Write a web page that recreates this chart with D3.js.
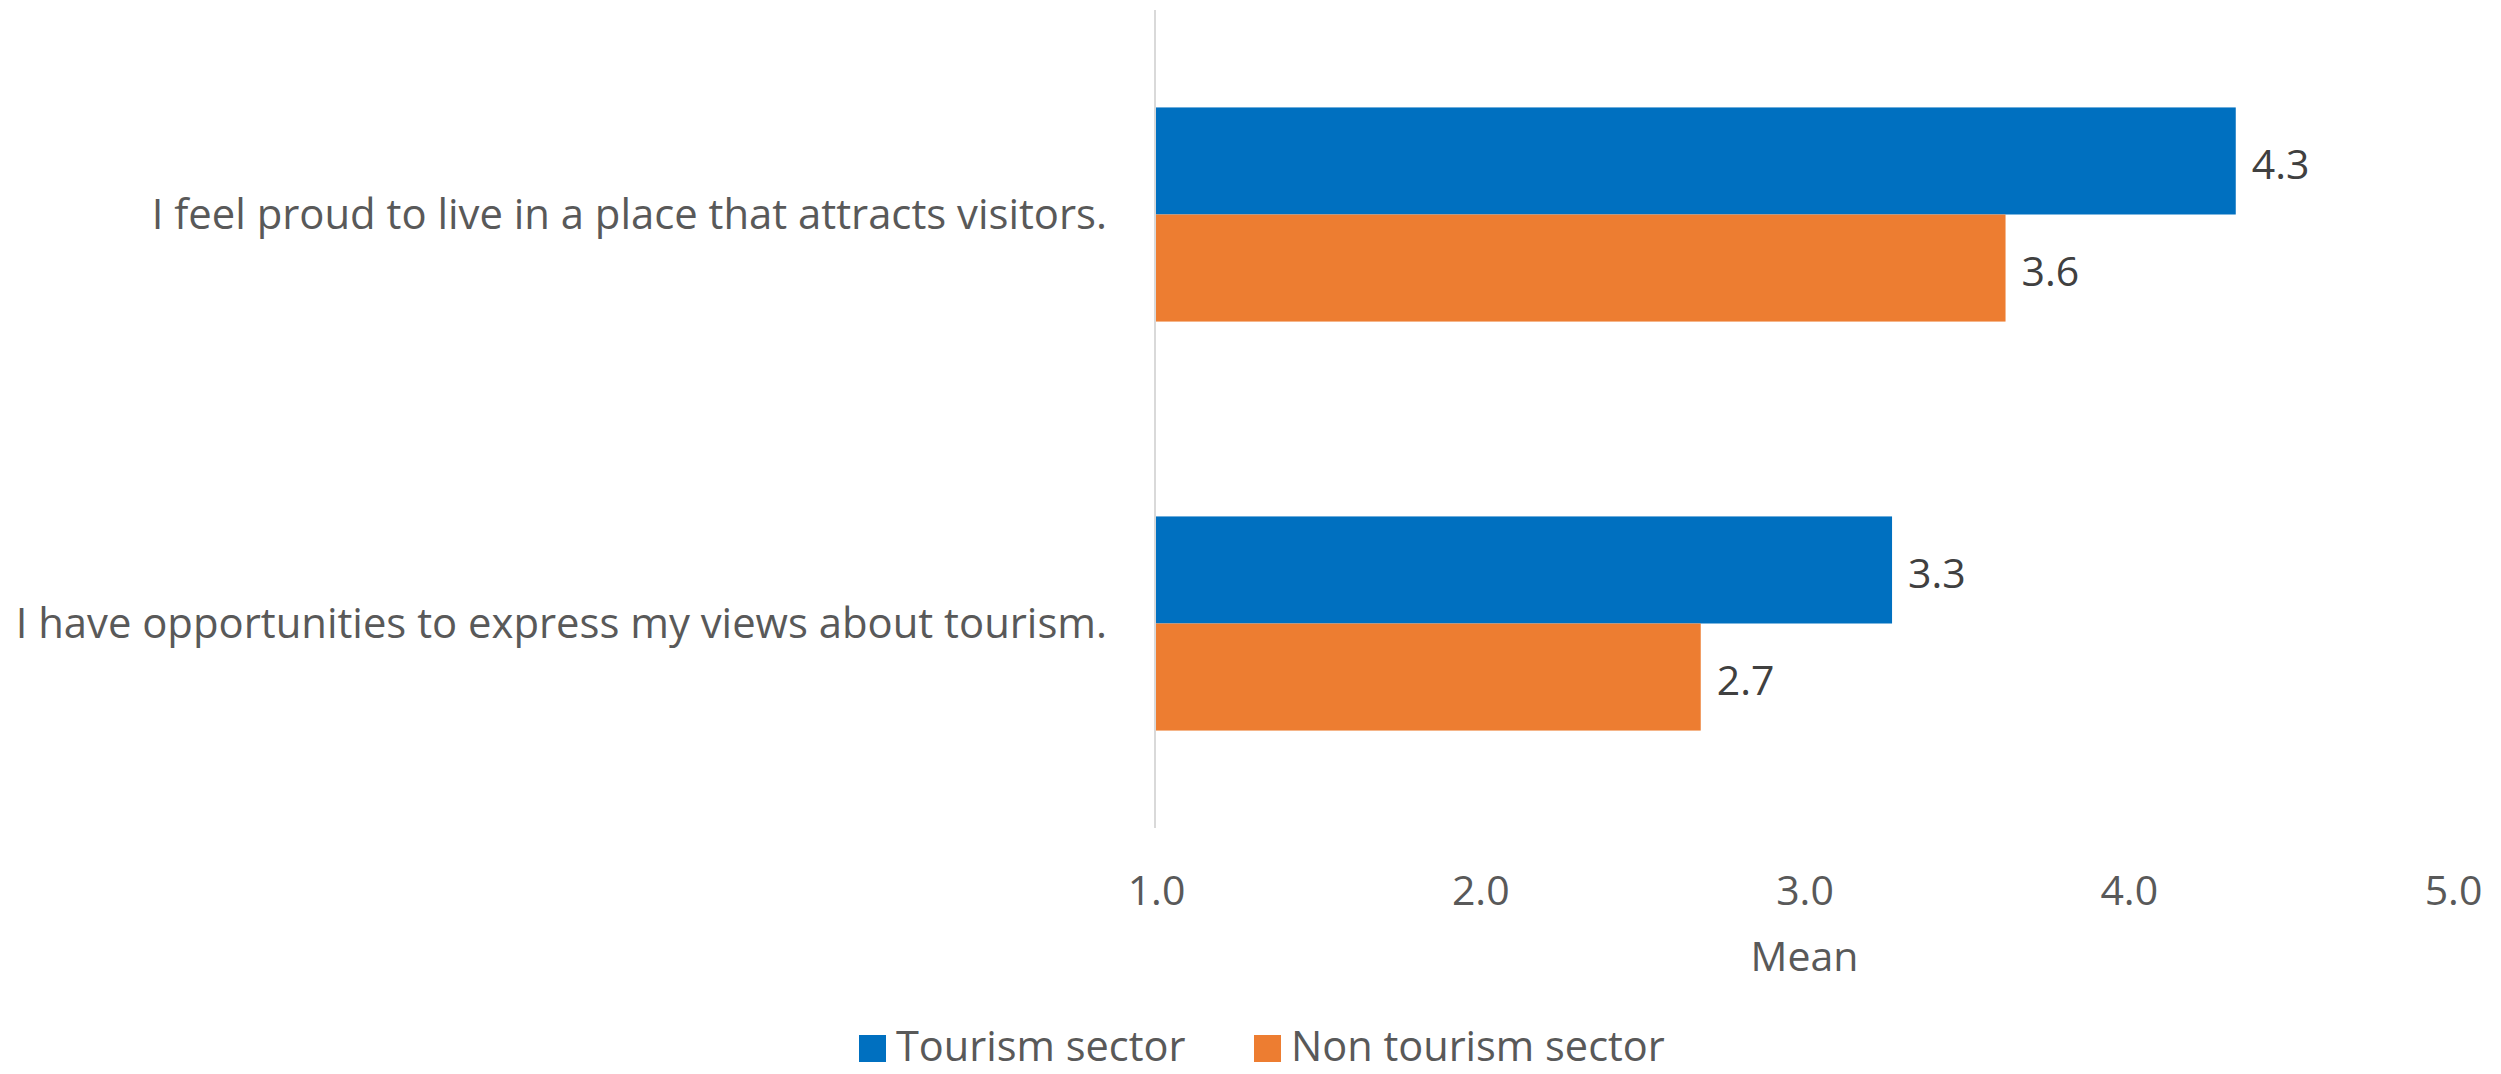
<!DOCTYPE html>
<html>
<head>
<meta charset="utf-8">
<script src="https://cdn.jsdelivr.net/npm/d3@7"></script>
<style>
  html, body { margin: 0; padding: 0; background: #fff; }
  svg { display: block; }
  text { font-family: "Open Sans", "Noto Sans", sans-serif; }
</style>
</head>
<body>
<script>
const categories = [
  "I feel proud to live in a place that attracts visitors.",
  "I have opportunities to express my views about tourism."
];
const seriesNames = ["Tourism sector", "Non tourism sector"];
const tourismValues = [4.33, 3.27];
const nonTourismValues = [3.62, 2.68];
const tickValues = [1, 2, 3, 4, 5];
const axisTitle = "Mean";
const colors = ["#0070C0", "#ED7D31"];

const W = 2501, H = 1074;
const svg = d3.select("body").append("svg").attr("width", W).attr("height", H);

const x = d3.scaleLinear().domain([1, 5]).range([1156, 2453]);
const y = d3.scaleBand().domain(categories).range([10, 828]).padding(0);
const ySub = d3.scaleBand().domain(seriesNames).range([0, y.bandwidth()])
  .paddingInner(0).paddingOuter(0.91);

const data = categories.map((c, i) => ({
  cat: c,
  vals: [
    { s: seriesNames[0], v: tourismValues[i], color: colors[0] },
    { s: seriesNames[1], v: nonTourismValues[i], color: colors[1] }
  ]
}));

// bars
const groups = svg.selectAll("g.cat").data(data).join("g")
  .attr("class", "cat")
  .attr("transform", d => `translate(0,${y(d.cat)})`);

groups.selectAll("rect").data(d => d.vals).join("rect")
  .attr("x", x(1))
  .attr("y", d => ySub(d.s))
  .attr("width", d => x(d.v) - x(1))
  .attr("height", ySub.bandwidth())
  .attr("fill", d => d.color);

groups.selectAll("text.val").data(d => d.vals).join("text")
  .attr("class", "val")
  .attr("x", d => x(d.v) + 16)
  .attr("y", d => ySub(d.s) + ySub.bandwidth() / 2 + 2)
  .attr("dominant-baseline", "central")
  .attr("font-size", 41)
  .attr("fill", "#404040")
  .text(d => d.v.toFixed(1));

// vertical axis line
svg.append("line")
  .attr("x1", x(1) - 1).attr("x2", x(1) - 1)
  .attr("y1", 10).attr("y2", 828)
  .attr("stroke", "#d9d9d9").attr("stroke-width", 2);

// category labels
svg.selectAll("text.catlab").data(categories).join("text")
  .attr("class", "catlab")
  .attr("x", 1107)
  .attr("y", d => y(d) + y.bandwidth() / 2 + 14)
  .attr("text-anchor", "end")
  .attr("font-size", 41.8)
  .attr("fill", "#595959")
  .text(d => d);

// x axis ticks (no line)
const xAxis = d3.axisBottom(x).tickValues(tickValues).tickFormat(d3.format(".1f")).tickSize(0);
const gx = svg.append("g").attr("transform", "translate(0,905)").call(xAxis);
gx.select(".domain").remove();
gx.selectAll("text")
  .attr("dy", null)
  .attr("y", 0)
  .attr("font-size", 41)
  .attr("font-family", "Open Sans, Noto Sans, sans-serif")
  .attr("fill", "#595959");

svg.append("text")
  .attr("x", x(3)).attr("y", 971)
  .attr("text-anchor", "middle")
  .attr("font-size", 41)
  .attr("fill", "#595959")
  .text(axisTitle);

// legend
const legendX = [859, 1254];
const lg = svg.selectAll("g.leg").data(seriesNames).join("g")
  .attr("class", "leg")
  .attr("transform", (d, i) => `translate(${legendX[i]},1035)`);
lg.append("rect").attr("width", 27).attr("height", 27).attr("fill", (d, i) => colors[i]);
lg.append("text").attr("x", 37).attr("y", 26)
  .attr("font-size", 41.5).attr("fill", "#595959").text(d => d);
</script>
</body>
</html>
